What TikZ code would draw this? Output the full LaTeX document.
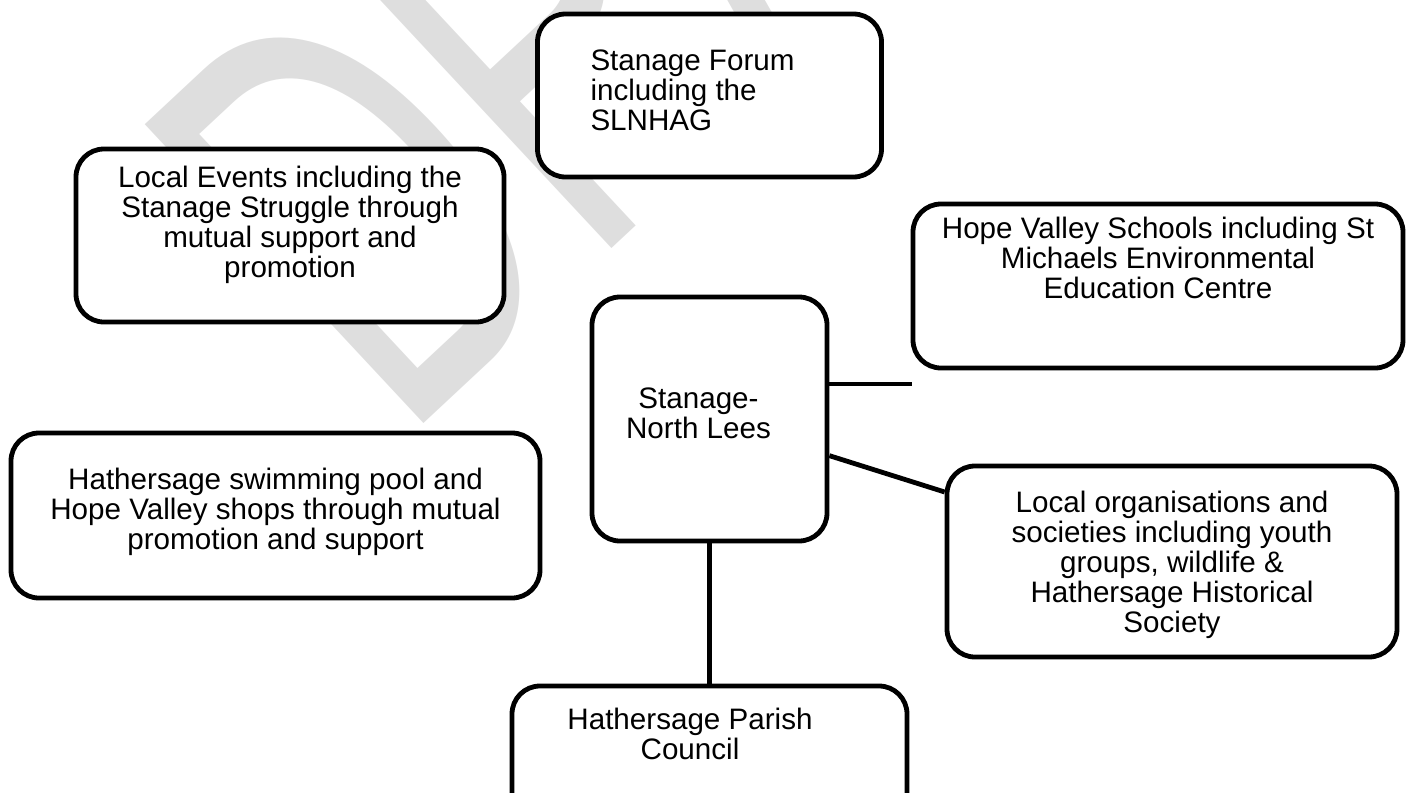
\documentclass[tikz,border=0pt]{standalone}
\usepackage{fontspec}
\setmainfont{Liberation Sans}
\usepackage{xcolor}
\usepackage{tikz}
\usetikzlibrary{positioning}

\begin{document}
\begin{tikzpicture}[
  x=1pt, y=1pt,
  on grid,
  every node/.style={font=\fontsize{14.8pt}{15pt}\selectfont},
  partner/.style={rectangle, draw, fill=white, line width=2.4pt,
    rounded corners=14pt},
  caption/.style={inner sep=0pt, align=center},
  link/.style={line width=2.4pt},
  watermark/.style={text=black!13, inner sep=0pt, anchor=base west,
    font=\fontsize{297pt}{297pt}\selectfont, rotate=43, xscale=0.6}
]
  \useasboundingbox (0,0) rectangle (705,-396.5);
  \node[watermark] (draft) at (201,-222) {DRAFT};

  \node[partner, minimum width=117.5pt, minimum height=122pt] (centre) at (354.75,-209.5) {};
  \node[partner, minimum width=172pt, minimum height=81.5pt, above=161.75pt of centre] (forum) {};
  \node[partner, minimum width=214pt, minimum height=86.5pt, above left=91.75pt and 209.75pt of centre] (events) {};
  \node[partner, minimum width=245pt, minimum height=82pt, above right=66.5pt and 224.25pt of centre] (schools) {};
  \node[partner, minimum width=264.5pt, minimum height=82.5pt, below left=48.25pt and 217pt of centre] (pool) {};
  \node[partner, minimum width=225pt, minimum height=95.5pt, below right=71.25pt and 231.25pt of centre] (orgs) {};
  \node[partner, minimum width=197.5pt, minimum height=82pt, below=174.5pt of centre] (parish) {};

  \node[caption, xshift=-5.5pt, yshift=3pt] (centre-text) at (centre) {Stanage-\\North Lees};
  \node[caption, align=left, anchor=north west] (forum-text) at ([xshift=27.5pt, yshift=-19pt]forum.north west) {Stanage Forum\\including the\\SLNHAG};
  \node[caption, anchor=north] (events-text) at ([yshift=-9.5pt]events.north) {Local Events including the\\Stanage Struggle through\\mutual support and\\promotion};
  \node[caption, anchor=north] (schools-text) at ([yshift=-7.5pt]schools.north) {Hope Valley Schools including St\\Michaels Environmental\\Education Centre};
  \node[caption, anchor=north] (pool-text) at ([yshift=-18.5pt]pool.north) {Hathersage swimming pool and\\Hope Valley shops through mutual\\promotion and support};
  \node[caption, anchor=north] (orgs-text) at ([yshift=-13.5pt]orgs.north) {Local organisations and\\societies including youth\\groups, wildlife \&\\Hathersage Historical\\Society};
  \node[caption, anchor=north] (parish-text) at ([xshift=-9.75pt, yshift=-12pt]parish.north) {Hathersage Parish\\Council};

  \coordinate (stub) at (456,-192);
  \draw[link] (stub -| centre.east) -- (stub);
  \draw[link] (centre.-17) -- (orgs.163);
  \draw[link] (centre.south) -- (parish.north);
\end{tikzpicture}
\end{document}
